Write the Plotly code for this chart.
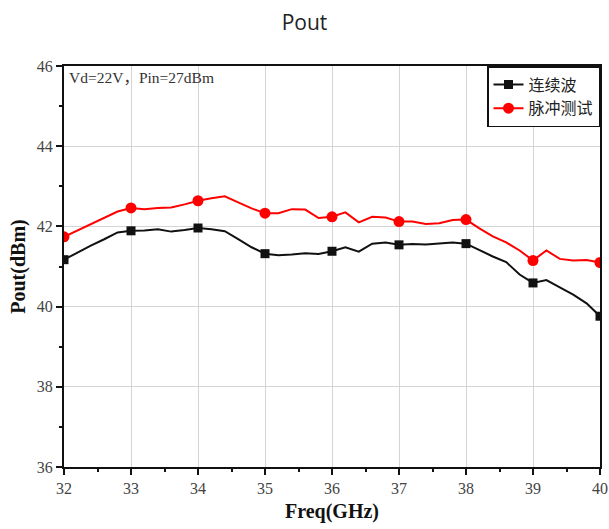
import plotly.graph_objects as go

freq = [32.0, 32.2, 32.4, 32.6, 32.8, 33.0, 33.2, 33.4, 33.6, 33.8, 34.0, 34.2, 34.4, 34.6, 34.8,
        35.0, 35.2, 35.4, 35.6, 35.8, 36.0, 36.2, 36.4, 36.6, 36.8, 37.0, 37.2, 37.4, 37.6, 37.8,
        38.0, 38.2, 38.4, 38.6, 38.8, 39.0, 39.2, 39.4, 39.6, 39.8, 40.0]

cw_pout = [41.17, 41.35, 41.52, 41.68, 41.85, 41.89, 41.90, 41.93, 41.87, 41.91, 41.96, 41.93, 41.88, 41.68, 41.48,
           41.32, 41.28, 41.30, 41.33, 41.31, 41.38, 41.48, 41.37, 41.57, 41.60, 41.54, 41.56, 41.55, 41.58, 41.60,
           41.57, 41.40, 41.25, 41.11, 40.80, 40.59, 40.66, 40.48, 40.30, 40.08, 39.76]

pulse_pout = [41.74, 41.90, 42.05, 42.20, 42.37, 42.46, 42.43, 42.46, 42.47, 42.55, 42.64, 42.70, 42.75, 42.60, 42.45,
              42.33, 42.33, 42.43, 42.42, 42.21, 42.24, 42.35, 42.10, 42.24, 42.22, 42.12, 42.12, 42.06, 42.08, 42.16,
              42.17, 41.95, 41.75, 41.60, 41.40, 41.15, 41.40, 41.19, 41.15, 41.16, 41.10]

series_names = ["连续波", "脉冲测试"]
x_ticks = [32, 33, 34, 35, 36, 37, 38, 39, 40]
y_ticks = [36, 38, 40, 42, 44, 46]

marker_freq = [f for f in freq if abs(f - round(f)) < 1e-9]
cw_marks = [v for f, v in zip(freq, cw_pout) if abs(f - round(f)) < 1e-9]
pulse_marks = [v for f, v in zip(freq, pulse_pout) if abs(f - round(f)) < 1e-9]

CJK = "Liberation Serif, Noto Sans CJK SC, serif"

fig = go.Figure()
styles = [
    (cw_pout, cw_marks, "#111111", "square", 9),
    (pulse_pout, pulse_marks, "#ff0000", "circle", 11),
]
for name, (vals, marks, col, sym, ms) in zip(series_names, styles):
    fig.add_trace(go.Scatter(x=freq, y=vals, mode="lines", line=dict(color=col, width=2),
                             showlegend=False, hoverinfo="skip"))
    fig.add_trace(go.Scatter(x=marker_freq, y=marks, mode="markers",
                             marker=dict(color=col, symbol=sym, size=ms),
                             showlegend=False))
    fig.add_trace(go.Scatter(x=[None], y=[None], mode="lines+markers", name=name,
                             line=dict(color=col, width=2),
                             marker=dict(color=col, symbol=sym, size=ms)))

fig.add_annotation(x=0, y=1, xref="paper", yref="paper", xanchor="left", yanchor="top",
                   xshift=3, yshift=-1,
                   text="Vd=22V，Pin=27dBm", showarrow=False,
                   font=dict(family=CJK, size=15.5, color="#333333"))

fig.update_layout(
    width=609, height=529,
    margin=dict(l=64, r=9, t=66, b=62, autoexpand=False),
    paper_bgcolor="white", plot_bgcolor="white",
    title=dict(text="Pout", x=0.5, xanchor="center", y=0.958, yanchor="middle",
               font=dict(family="Open Sans, sans-serif", size=21, color="#222222")),
    legend=dict(x=1, y=1, xanchor="right", yanchor="top",
                bordercolor="#111111", borderwidth=1.5, bgcolor="white",
                font=dict(family="Noto Sans CJK SC, sans-serif", size=16, color="#222222"),
                tracegroupgap=0, itemwidth=30,
                ),
    showlegend=True,
)

fig.update_xaxes(range=[32, 40], tickvals=x_ticks, ticktext=[str(t) for t in x_ticks],
                 automargin=False,
                 showgrid=True, gridcolor="#d4d4d4", gridwidth=1,
                 showline=True, linecolor="#111111", linewidth=2, mirror=True,
                 ticks="outside", ticklen=6, tickwidth=2, tickcolor="#111111",
                 minor=dict(dtick=0.5, ticks="outside", ticklen=3, tickwidth=2, tickcolor="#111111", showgrid=False),
                 tickfont=dict(family="Liberation Serif, serif", size=16, color="#444444"),
                 title=dict(text="<b>Freq(GHz)</b>", standoff=8,
                            font=dict(family="Liberation Serif, serif", size=20, color="#111111")),
                 zeroline=False)
fig.update_yaxes(range=[36, 46], tickvals=y_ticks, ticktext=[str(t) for t in y_ticks],
                 automargin=False,
                 showgrid=True, gridcolor="#d4d4d4", gridwidth=1,
                 showline=True, linecolor="#111111", linewidth=2, mirror=True,
                 ticks="outside", ticklen=6, tickwidth=2, tickcolor="#111111",
                 minor=dict(dtick=1, ticks="outside", ticklen=3, tickwidth=2, tickcolor="#111111", showgrid=False),
                 tickfont=dict(family="Liberation Serif, serif", size=16, color="#444444"),
                 title=dict(text="<b>Pout(dBm)</b>", standoff=6,
                            font=dict(family="Liberation Serif, serif", size=20, color="#111111")),
                 zeroline=False)

fig.write_html("out.html")
